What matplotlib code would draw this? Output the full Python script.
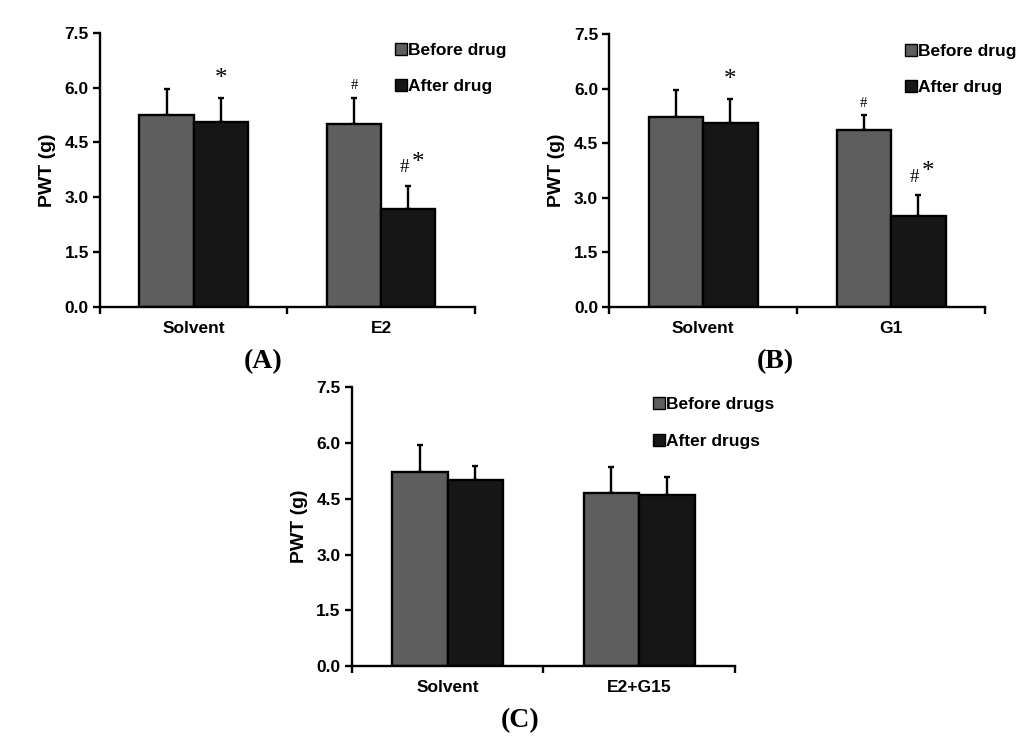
import matplotlib
matplotlib.use("Agg")
import matplotlib.pyplot as plt
from matplotlib.lines import Line2D
import numpy as np

# ==============================================================================
# data (PWT in grams, mean and upper error)
groups_a = ["Solvent", "E2"]
before_a = [5.25, 5.00]
before_a_err = [0.70, 0.73]
after_a = [5.05, 2.68]
after_a_err = [0.68, 0.63]
marks_before_a = ["", "#"]
marks_after_a = ["*", "#*"]

groups_b = ["Solvent", "G1"]
before_b = [5.22, 4.86]
before_b_err = [0.74, 0.43]
after_b = [5.05, 2.49]
after_b_err = [0.68, 0.58]
marks_before_b = ["", "#"]
marks_after_b = ["*", "#*"]

groups_c = ["Solvent", "E2+G15"]
before_c = [5.21, 4.67]
before_c_err = [0.73, 0.69]
after_c = [5.00, 4.59]
after_c_err = [0.38, 0.50]
marks_before_c = ["", ""]
marks_after_c = ["", ""]

y_ticks = [0.0, 1.5, 3.0, 4.5, 6.0, 7.5]
# ==============================================================================
col_before = "#5e5e5e"
col_after = "#161616"
sans = "Liberation Sans"
serif = "Liberation Serif"
bar_w = 0.29

plt.rcParams["font.family"] = sans
plt.rcParams["font.weight"] = "bold"

fig = plt.figure(figsize=(10.24, 7.41), dpi=100)


def panel(rect, groups, bef, bef_err, aft, aft_err, mb, ma, leg_names, tag,
          tag_xy):
   ax = fig.add_axes(rect)
   x = np.arange(len(groups)) + 0.5
   ax.bar(x - bar_w / 2, bef, bar_w, color=col_before, edgecolor="black",
          linewidth=1.7, zorder=2)
   ax.bar(x + bar_w / 2, aft, bar_w, color=col_after, edgecolor="black",
          linewidth=1.7, zorder=2)
   zero = np.zeros(len(groups))
   ax.errorbar(x - bar_w / 2, bef, yerr=[zero, bef_err], fmt="none",
               ecolor="black", elinewidth=1.7, capsize=2.5, capthick=1.7,
               zorder=1)
   ax.errorbar(x + bar_w / 2, aft, yerr=[zero, aft_err], fmt="none",
               ecolor="black", elinewidth=1.7, capsize=2.5, capthick=1.7,
               zorder=1)
   # significance marks
   for i in range(len(groups)):
      if mb[i]:
         ax.text(x[i] - bar_w / 2, bef[i] + bef_err[i] + 0.32, mb[i],
                 ha="center", va="center", family=serif, weight="normal",
                 fontsize=10.5)
      if ma[i] == "*":
         ax.text(x[i] + bar_w / 2, aft[i] + aft_err[i] + 0.5, ma[i],
                 ha="center", va="center", family=serif, weight="normal",
                 fontsize=18)
      elif ma[i] == "#*":
         ax.text(x[i] + bar_w / 2 - 0.02, aft[i] + aft_err[i] + 0.5, "#",
                 ha="center", va="center", family=serif, weight="normal",
                 fontsize=13.5)
         ax.text(x[i] + bar_w / 2 + 0.052, aft[i] + aft_err[i] + 0.64, "*",
                 ha="center", va="center", family=serif, weight="normal",
                 fontsize=18)

   ax.set_xlim(0, len(groups))
   ax.set_ylim(0, 7.5)
   ax.set_yticks(y_ticks)
   ax.set_yticklabels(["%.1f" % v for v in y_ticks], fontsize=12.5,
                      weight="bold")
   ax.set_xticks(x)
   ax.set_xticklabels(groups, fontsize=12.5, weight="bold")
   ax.set_xticks(np.arange(len(groups) + 1), minor=True)
   ax.tick_params(axis="x", which="major", length=0, pad=10)
   ax.tick_params(axis="x", which="minor", length=5, width=1.7,
                  direction="out")
   ax.tick_params(axis="y", length=5, width=1.7, direction="out", pad=3)
   ax.spines["top"].set_visible(False)
   ax.spines["right"].set_visible(False)
   ax.spines["left"].set_linewidth(1.7)
   ax.spines["bottom"].set_linewidth(1.7)
   ax.set_ylabel("PWT (g)", fontsize=14, weight="bold", labelpad=6)

   handles = [Line2D([], [], linestyle="none", marker="s", markersize=8,
                     markerfacecolor=col_before, markeredgecolor="black",
                     markeredgewidth=1.0),
              Line2D([], [], linestyle="none", marker="s", markersize=8,
                     markerfacecolor=col_after, markeredgecolor="black",
                     markeredgewidth=1.0)]
   ax.legend(handles, leg_names, loc="upper left",
             bbox_to_anchor=(0.77, 0.99), frameon=False, handlelength=0.6,
             handletextpad=0.1, labelspacing=1.22, borderaxespad=0,
             prop={"family": sans, "weight": "bold", "size": 12.5})

   fig.text(tag_xy[0], tag_xy[1], tag, ha="center", va="center",
            family=serif, weight="bold", fontsize=20)
   return ax


panel([0.0977, 0.5857, 0.366, 0.370], groups_a, before_a, before_a_err,
      after_a, after_a_err, marks_before_a, marks_after_a,
      ["Before drug", "After drug"], "(A)", (0.257, 0.512))
panel([0.595, 0.5857, 0.367, 0.368], groups_b, before_b, before_b_err,
      after_b, after_b_err, marks_before_b, marks_after_b,
      ["Before drug", "After drug"], "(B)", (0.757, 0.512))
panel([0.3436, 0.1012, 0.374, 0.376], groups_c, before_c, before_c_err,
      after_c, after_c_err, marks_before_c, marks_after_c,
      ["Before drugs", "After drugs"], "(C)", (0.508, 0.027))

plt.savefig("out.png", dpi=100)
